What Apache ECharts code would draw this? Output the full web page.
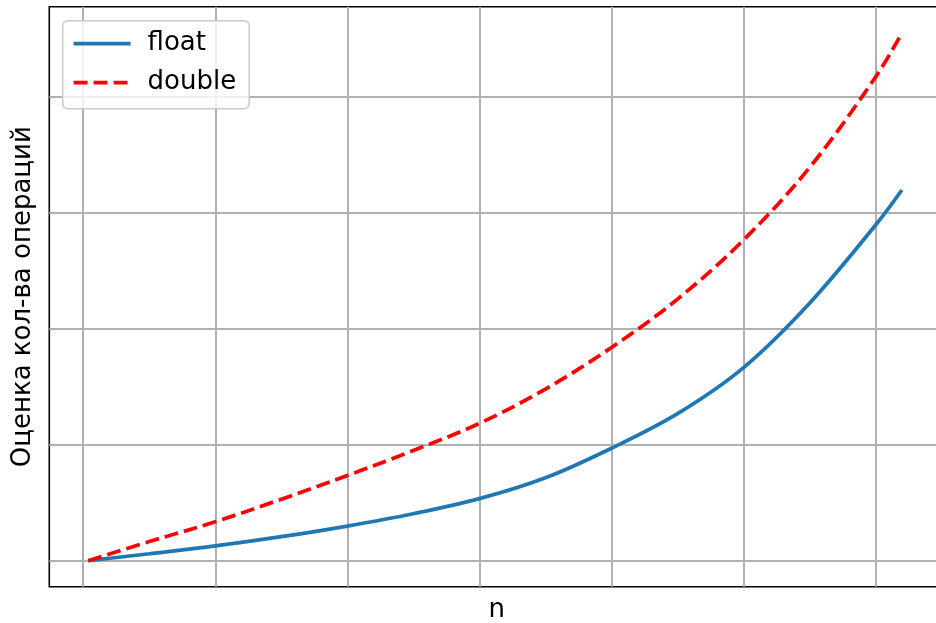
<!DOCTYPE html>
<html>
<head>
<meta charset="utf-8">
<title>float vs double</title>
<script src="https://cdn.jsdelivr.net/npm/echarts@6/dist/echarts.min.js"></script>
<style>
  html, body { margin: 0; padding: 0; background: #ffffff; }
  #chart { width: 936px; height: 623px; }
</style>
</head>
<body>
<div id="chart"></div>
<script>
// Sample positions along n for each curve
const floatN   = [0.038, 0.5, 1.0, 1.5, 2.0, 2.5, 3.0, 3.5, 4.0, 4.5, 5.0, 5.5, 6.0, 6.199];
const floatOps = [0.000, 0.060, 0.127, 0.207, 0.299, 0.405, 0.535, 0.715, 0.970, 1.268, 1.665, 2.220, 2.894, 3.196];

const doubleN   = [0.038, 0.5, 1.0, 1.5, 2.0, 2.5, 3.0, 3.5, 4.0, 4.5, 5.0, 5.5, 6.0, 6.199];
const doubleOps = [0.000, 0.165, 0.336, 0.530, 0.735, 0.950, 1.184, 1.480, 1.838, 2.255, 2.765, 3.390, 4.170, 4.549];

// Grid line positions (no tick labels are drawn)
const xTicks = [0, 1, 2, 3, 4, 5, 6];
const yTicks = [0, 1, 2, 3, 4];

const seriesNames = ['float', 'double'];

const zip = (xs, ys) => xs.map((x, i) => [x, ys[i]]);

const FONT = "'DejaVu Sans', sans-serif";
const FONT_SIZE = 26;
const LINE_W = 3.75;
const gridLine = { show: true, lineStyle: { color: '#b0b0b0', width: 2 } };

const chart = echarts.init(document.getElementById('chart'), null, { renderer: 'canvas' });
chart.setOption({
  animation: false,
  backgroundColor: '#ffffff',
  grid: {
    left: 49.3,
    top: 6.7,
    width: 895,
    height: 580,
    outerBoundsMode: 'none',
    containLabel: false,
    show: true,
    borderColor: '#000000',
    borderWidth: 1.6,
    backgroundColor: 'transparent'
  },
  legend: {
    left: 62.7,
    top: 20.7,
    orient: 'vertical',
    itemWidth: 57,
    itemHeight: 3,
    itemGap: 13,
    padding: [10, 13, 13, 9],
    backgroundColor: 'rgba(255,255,255,0.8)',
    borderColor: '#cccccc',
    borderWidth: 1.6,
    borderRadius: 5,
    itemStyle: { opacity: 0 },
    lineStyle: { width: LINE_W },
    textStyle: {
      fontFamily: FONT,
      fontSize: FONT_SIZE,
      lineHeight: 26,
      color: '#000000',
      padding: [0, 0, 0, 12]
    },
    data: seriesNames
  },
  xAxis: {
    type: 'value',
    min: -0.257,
    max: 6.52,
    name: 'n',
    nameLocation: 'middle',
    nameGap: 11,
    nameTextStyle: { fontFamily: FONT, fontSize: FONT_SIZE, color: '#000000', verticalAlign: 'top' },
    axisLine: { show: false },
    axisTick: { show: false, customValues: xTicks },
    axisLabel: { show: false },
    splitLine: gridLine
  },
  yAxis: {
    type: 'value',
    min: -0.224,
    max: 4.776,
    name: 'Оценка кол-ва операций',
    nameLocation: 'middle',
    nameGap: 13,
    nameRotate: 90,
    nameTextStyle: { fontFamily: FONT, fontSize: FONT_SIZE, color: '#000000' },
    axisLine: { show: false },
    axisTick: { show: false, customValues: yTicks },
    axisLabel: { show: false },
    splitLine: gridLine
  },
  series: [
    {
      name: seriesNames[0],
      type: 'line',
      data: zip(floatN, floatOps),
      smooth: 0.35,
      symbol: 'none',
      lineStyle: { color: '#1f77b4', width: LINE_W, cap: 'butt' },
      itemStyle: { color: '#1f77b4' },
      z: 3
    },
    {
      name: seriesNames[1],
      type: 'line',
      data: zip(doubleN, doubleOps),
      smooth: 0.35,
      symbol: 'none',
      lineStyle: { color: '#ff0000', width: LINE_W, type: [14, 6], cap: 'butt' },
      itemStyle: { color: '#ff0000' },
      z: 4
    }
  ]
});
</script>
</body>
</html>
